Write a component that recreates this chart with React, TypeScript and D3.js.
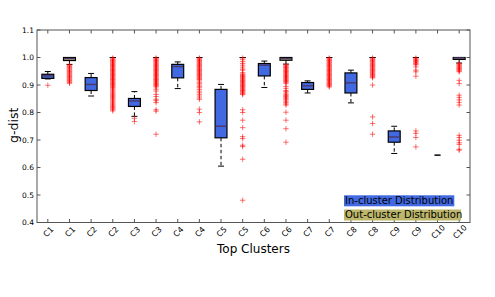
import React from 'react';
import * as d3 from 'd3';

const W = 495;
const H = 297;

const categories = ['C1', 'C1', 'C2', 'C2', 'C3', 'C3', 'C4', 'C4', 'C5', 'C5', 'C6', 'C6', 'C7', 'C7', 'C8', 'C8', 'C9', 'C9', 'C10', 'C10'];
const groups = ['in', 'out', 'in', 'out', 'in', 'out', 'in', 'out', 'in', 'out', 'in', 'out', 'in', 'out', 'in', 'out', 'in', 'out', 'in', 'out'];

const whiskerLow = [0.922, 0.975, 0.860, 1.0, 0.786, 1.0, 0.887, 1.0, 0.605, 1.0, 0.891, 0.976, 0.871, 1.0, 0.835, 1.0, 0.651, 1.0, 0.645, 0.980];
const q1 = [0.924, 0.989, 0.880, 1.0, 0.822, 1.0, 0.926, 1.0, 0.708, 1.0, 0.933, 0.990, 0.884, 1.0, 0.871, 1.0, 0.692, 1.0, 0.645, 0.993];
const median = [0.933, 0.996, 0.902, 1.0, 0.842, 1.0, 0.967, 1.0, 0.750, 1.0, 0.972, 0.996, 0.897, 1.0, 0.908, 1.0, 0.711, 1.0, 0.645, 0.998];
const q3 = [0.939, 1.0, 0.927, 1.0, 0.851, 1.0, 0.975, 1.0, 0.884, 1.0, 0.978, 1.0, 0.909, 1.0, 0.944, 1.0, 0.733, 1.0, 0.645, 1.0];
const whiskerHigh = [0.949, 1.0, 0.942, 1.0, 0.876, 1.0, 0.984, 1.0, 0.902, 1.0, 0.987, 1.0, 0.915, 1.0, 0.954, 1.0, 0.750, 1.0, 0.645, 1.0];

const outliers: number[][] = [
  [0.899],
  [0.973, 0.97, 0.967, 0.964, 0.961, 0.958, 0.955, 0.952, 0.949, 0.946, 0.943, 0.94, 0.937, 0.934, 0.931, 0.928, 0.925, 0.922, 0.919, 0.916, 0.913, 0.909, 0.906],
  [],
  [0.998, 0.995, 0.992, 0.989, 0.986, 0.983, 0.98, 0.977, 0.974, 0.971, 0.968, 0.965, 0.962, 0.959, 0.956, 0.953, 0.95, 0.947, 0.944, 0.941, 0.938, 0.935, 0.932, 0.929, 0.926, 0.923, 0.92, 0.917, 0.914, 0.911, 0.908, 0.905, 0.902, 0.899, 0.896, 0.893, 0.89, 0.886, 0.882, 0.878, 0.874, 0.87, 0.866, 0.862, 0.858, 0.854, 0.85, 0.846, 0.842, 0.838, 0.834, 0.83, 0.826, 0.822, 0.818, 0.814, 0.81, 0.806],
  [0.779, 0.767],
  [0.998, 0.995, 0.992, 0.989, 0.986, 0.983, 0.98, 0.977, 0.974, 0.971, 0.968, 0.965, 0.962, 0.959, 0.956, 0.953, 0.95, 0.947, 0.944, 0.941, 0.938, 0.935, 0.932, 0.929, 0.926, 0.923, 0.92, 0.917, 0.914, 0.911, 0.908, 0.905, 0.902, 0.899, 0.896, 0.893, 0.885, 0.878, 0.866, 0.858, 0.848, 0.843, 0.836, 0.81, 0.805, 0.721],
  [],
  [0.998, 0.995, 0.992, 0.989, 0.986, 0.983, 0.98, 0.977, 0.974, 0.971, 0.968, 0.965, 0.962, 0.959, 0.956, 0.953, 0.95, 0.947, 0.944, 0.941, 0.938, 0.935, 0.932, 0.929, 0.926, 0.923, 0.92, 0.915, 0.91, 0.905, 0.9, 0.895, 0.89, 0.884, 0.878, 0.872, 0.866, 0.86, 0.853, 0.848, 0.812, 0.8, 0.766],
  [],
  [0.998, 0.992, 0.985, 0.978, 0.972, 0.965, 0.958, 0.954, 0.945, 0.94, 0.937, 0.934, 0.931, 0.928, 0.925, 0.922, 0.919, 0.916, 0.913, 0.91, 0.907, 0.904, 0.901, 0.898, 0.895, 0.892, 0.889, 0.886, 0.883, 0.88, 0.877, 0.874, 0.871, 0.868, 0.865, 0.81, 0.8, 0.772, 0.745, 0.712, 0.705, 0.681, 0.676, 0.63, 0.481],
  [],
  [0.973, 0.97, 0.967, 0.964, 0.961, 0.958, 0.955, 0.952, 0.949, 0.946, 0.943, 0.94, 0.937, 0.934, 0.931, 0.928, 0.925, 0.922, 0.919, 0.916, 0.913, 0.91, 0.906, 0.895, 0.888, 0.88, 0.876, 0.871, 0.866, 0.862, 0.858, 0.854, 0.85, 0.846, 0.841, 0.836, 0.831, 0.827, 0.801, 0.772, 0.741, 0.692],
  [],
  [0.998, 0.995, 0.992, 0.989, 0.986, 0.983, 0.98, 0.977, 0.974, 0.971, 0.968, 0.965, 0.962, 0.959, 0.956, 0.953, 0.95, 0.947, 0.944, 0.941, 0.938, 0.935, 0.932, 0.929, 0.926, 0.923, 0.92, 0.917, 0.914, 0.911, 0.908, 0.905, 0.902, 0.899, 0.896, 0.893],
  [],
  [0.998, 0.995, 0.992, 0.989, 0.986, 0.983, 0.98, 0.977, 0.974, 0.971, 0.968, 0.965, 0.962, 0.959, 0.956, 0.953, 0.95, 0.947, 0.944, 0.941, 0.938, 0.935, 0.932, 0.929, 0.926, 0.9, 0.784, 0.76, 0.721],
  [],
  [0.998, 0.995, 0.992, 0.989, 0.986, 0.983, 0.98, 0.977, 0.974, 0.966, 0.954, 0.948, 0.932, 0.733, 0.724, 0.709, 0.675],
  [],
  [0.978, 0.975, 0.972, 0.969, 0.966, 0.963, 0.96, 0.957, 0.954, 0.951, 0.948, 0.917, 0.905, 0.863, 0.855, 0.846, 0.837, 0.827, 0.717, 0.709, 0.699, 0.69, 0.684, 0.666, 0.663],
];

const yTicks = [0.4, 0.5, 0.6, 0.7, 0.8, 0.9, 1.0, 1.1];
const legendLabels = ['In-cluster Distribution', 'Out-cluster Distribution'];

const FONT = 'DejaVu Sans, sans-serif';
const fillColor: Record<string, string> = { in: '#4169e1', out: '#bdb76b' };

export default function App() {
  const left = 37, right = 470, top = 30, bottom = 222.5;
  const x = d3.scaleLinear().domain([0.5, categories.length + 0.5]).range([left, right]);
  const y = d3.scaleLinear().domain([0.4, 1.1]).range([bottom, top]);
  const boxHalf = x(0.275) - x(0);
  const capHalf = boxHalf / 2;
  const frame = '#555';
  const tickLen = 3.5;

  return (
    <svg width={W} height={H} style={{ position: 'absolute', left: 0, top: 0, background: '#fff' }} fontFamily={FONT}>
      <rect x={0} y={0} width={W} height={H} fill="#fff" />
      {categories.map((c, i) => {
        const cx = x(i + 1);
        return (
          <g key={'b' + i}>
            <line x1={cx} x2={cx} y1={y(q3[i])} y2={y(whiskerHigh[i])} stroke="#000" strokeWidth={1} strokeDasharray="3.5,2.5" />
            <line x1={cx} x2={cx} y1={y(q1[i])} y2={y(whiskerLow[i])} stroke="#000" strokeWidth={1} strokeDasharray="3.5,2.5" />
            <line x1={cx - capHalf} x2={cx + capHalf} y1={y(whiskerHigh[i])} y2={y(whiskerHigh[i])} stroke="#000" strokeWidth={1} />
            <line x1={cx - capHalf} x2={cx + capHalf} y1={y(whiskerLow[i])} y2={y(whiskerLow[i])} stroke="#000" strokeWidth={1} />
            {outliers[i].map((v, j) => (
              <path key={j} d={`M${cx - 2.7},${y(v)}h5.4M${cx},${y(v) - 2.7}v5.4`} stroke="#ff0000" strokeOpacity={0.55} strokeWidth={1} fill="none" />
            ))}
            <rect x={cx - boxHalf} y={y(q3[i])} width={boxHalf * 2} height={Math.max(0, y(q1[i]) - y(q3[i]))} fill={fillColor[groups[i]]} stroke="#000" strokeWidth={1.2} />
            {q1[i] !== q3[i] && (
              <line x1={cx - boxHalf + 0.6} x2={cx + boxHalf - 0.6} y1={y(median[i])} y2={y(median[i])} stroke="#4b3a6e" strokeWidth={1.5} />
            )}
          </g>
        );
      })}
      <rect x={left} y={top} width={right - left} height={bottom - top} fill="none" stroke={frame} strokeWidth={1} />
      {yTicks.map((t) => (
        <g key={'y' + t}>
          <line x1={left} x2={left + tickLen} y1={y(t)} y2={y(t)} stroke={frame} />
          <line x1={right} x2={right - tickLen} y1={y(t)} y2={y(t)} stroke={frame} />
          <text x={left - 3} y={y(t)} dy="0.35em" textAnchor="end" fontSize={7.5} fill="#000">{t.toFixed(1)}</text>
        </g>
      ))}
      {categories.map((c, i) => (
        <g key={'x' + i}>
          <line x1={x(i + 1)} x2={x(i + 1)} y1={bottom} y2={bottom - tickLen} stroke={frame} />
          <line x1={x(i + 1)} x2={x(i + 1)} y1={top} y2={top + tickLen} stroke={frame} />
          <text transform={`translate(${x(i + 1) + 0.8},${bottom + 9.5}) rotate(-45)`} textAnchor="middle" dominantBaseline="central" fontSize={8} fill="#000">{c}</text>
        </g>
      ))}
      <text x={(left + right) / 2} y={252.5} textAnchor="middle" fontSize={12} fill="#000">Top Clusters</text>
      <text transform={`translate(17.5,${(top + bottom) / 2 - 1}) rotate(-90)`} textAnchor="middle" fontSize={12.5} fill="#000">g-dist</text>
      {legendLabels.map((l, i) => (
        <g key={'l' + i}>
          <rect x={344} y={195.3 + i * 14.2} width={i === 0 ? 110.3 : 117} height={11} fill={i === 0 ? fillColor.in : fillColor.out} />
          <text x={345} y={204.2 + i * 14.2} fontSize={10} fill="#000">{l}</text>
        </g>
      ))}
    </svg>
  );
}
